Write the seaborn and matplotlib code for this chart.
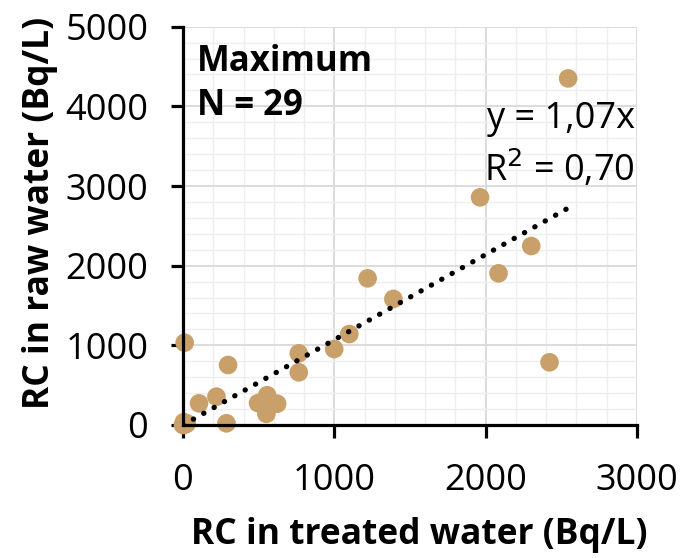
import matplotlib
matplotlib.use("Agg")
import matplotlib.pyplot as plt
import seaborn as sns
import numpy as np
import pandas as pd
from matplotlib.ticker import MultipleLocator

# Data
treated = [2545, 1963, 2301, 2085, 2422, 1220, 1390, 1099, 999, 765, 765,
           11, 298, 221, 106, 287, 11,
           496, 556, 622, 551, 545,
           0, 8, 15, 20, 5, 25, 12]
raw = [4351, 2858, 2247, 1904, 787, 1841, 1582, 1142, 954, 900, 661,
       1033, 753, 356, 272, 21, 29,
       275, 373, 267, 140, 300,
       0, 10, 25, 15, 35, 20, 5]
slope = 1.07
r2 = 0.70

df = pd.DataFrame({"treated": treated, "raw": raw})

sns.set_theme(style="white")
plt.rcParams['font.family'] = ['Open Sans', 'DejaVu Sans']
plt.rcParams['text.color'] = 'black'
plt.rcParams['axes.labelcolor'] = 'black'
plt.rcParams['xtick.color'] = 'black'
plt.rcParams['ytick.color'] = 'black'

fig = plt.figure(figsize=(6.82, 5.58), dpi=100)
ax = fig.add_axes([183/682, 1-425/558, (637-183)/682, (425-26.7)/558])

sns.scatterplot(data=df, x="treated", y="raw", ax=ax, color="#C9A06A",
                s=180, edgecolor="none", zorder=3, clip_on=False)

xs = np.array([0, max(treated)])
ax.plot(xs, slope * xs, color="black", lw=3.8, linestyle=(0, (0.05, 2.2)),
        dash_capstyle="round", zorder=4)

ax.set_xlim(0, 3000)
ax.set_ylim(0, 5000)
ax.xaxis.set_major_locator(MultipleLocator(1000))
ax.yaxis.set_major_locator(MultipleLocator(1000))
ax.xaxis.set_minor_locator(MultipleLocator(200))
ax.yaxis.set_minor_locator(MultipleLocator(200))
ax.grid(which="major", color="#D9D9D9", lw=1.3, zorder=0)
ax.grid(which="minor", color="#EEEEEE", lw=1.0, zorder=0)
ax.set_axisbelow(True)

for s in ["top", "right"]:
    ax.spines[s].set_visible(False)
for s in ["left", "bottom"]:
    ax.spines[s].set_color("black")
    ax.spines[s].set_linewidth(2.3)
    ax.spines[s].set_zorder(5)

ax.tick_params(which="major", direction="out", length=9, width=2.3,
               color="black", labelcolor="black", labelsize=26,
               left=True, bottom=True)
ax.tick_params(axis="x", which="major", pad=18)
ax.tick_params(axis="y", which="major", pad=16)
ax.tick_params(which="minor", length=0)

ax.set_xlabel("RC in treated water (Bq/L)", fontsize=25.5, fontweight="bold")
ax.set_ylabel("RC in raw water (Bq/L)", fontsize=25.5, fontweight="bold")
ax.xaxis.label.set_va("center")
ax.yaxis.label.set_va("center")
ax.xaxis.set_label_coords(0.52, -0.275)
ax.yaxis.set_label_coords(-0.316, 0.532)

ax.text(0.03, (425-71)/398.3, "Maximum", transform=ax.transAxes, fontsize=25,
        fontweight="bold", va="baseline", ha="left")
ax.text(0.03, (425-115)/398.3, "N = 29", transform=ax.transAxes, fontsize=25,
        fontweight="bold", va="baseline", ha="left")
ax.text(0.995, (425-128)/398.3, f"y = {slope:.2f}x".replace(".", ","),
        transform=ax.transAxes, fontsize=26, ha="right", va="baseline")
ax.text(0.995, (425-181)/398.3, f"R$^2$ = {r2:.2f}".replace(".", ","),
        transform=ax.transAxes, fontsize=26, ha="right", va="baseline")

fig.savefig("out.png", dpi=100)
